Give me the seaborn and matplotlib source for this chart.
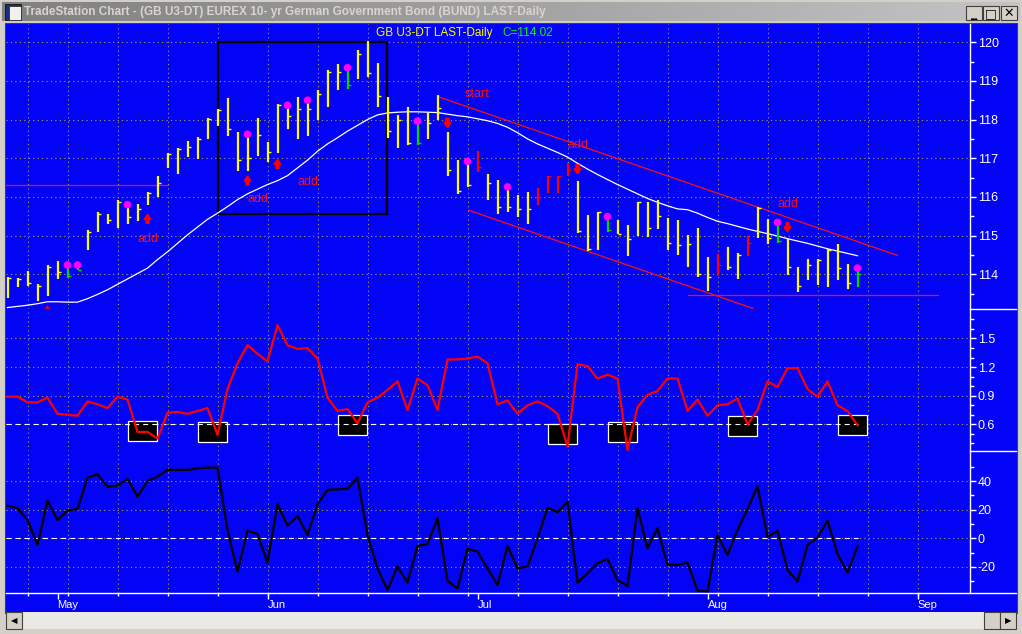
import numpy as np
import pandas as pd
import matplotlib
matplotlib.use('Agg')
import matplotlib.pyplot as plt
import matplotlib.patches as mpatches
from matplotlib.lines import Line2D
from matplotlib.colors import LinearSegmentedColormap
from matplotlib.ticker import FixedLocator
import seaborn as sns

plt.rcParams['font.family'] = ['Liberation Sans', 'DejaVu Sans']

# ---------------- data ----------------
highs = [113.92, 113.90, 114.09, 113.75, 114.24, 114.34, 114.24, 114.24, 115.15, 115.60,
         115.56, 115.92, 115.80, 115.82, 116.14, 116.53, 117.14, 117.26, 117.45, 117.55,
         118.04, 118.26, 118.56, 117.68, 117.62, 118.05, 117.42, 118.41, 118.37, 118.59,
         118.50, 118.76, 119.28, 119.43, 119.34, 119.80, 120.03, 119.45, 118.59, 118.13,
         118.33, 117.96, 118.16, 118.63, 117.67, 116.96, 116.92, 117.19, 116.60, 116.44,
         116.26, 116.05, 116.12, 116.22, 116.55, 116.55, 116.88, 116.41, 115.54, 115.62,
         115.49, 115.40, 115.28, 115.88, 115.88, 115.93, 115.45, 115.40, 115.01, 115.19,
         114.44, 114.52, 114.70, 114.54, 114.98, 115.73, 115.43, 115.34, 114.91, 114.20,
         114.39, 114.39, 114.65, 114.78, 114.26, 114.16]
lows = [113.38, 113.68, 113.70, 113.32, 113.44, 113.87, 113.90, 114.10, 114.64, 115.10,
        115.29, 115.20, 115.30, 115.37, 115.78, 115.99, 116.75, 116.58, 117.02, 116.97,
        117.50, 117.83, 117.58, 116.66, 116.68, 117.05, 116.90, 117.14, 117.75, 117.50,
        117.58, 117.99, 118.32, 118.76, 118.80, 119.04, 119.11, 118.33, 117.52, 117.27,
        117.34, 117.34, 117.49, 117.99, 116.55, 116.08, 116.25, 116.64, 115.91, 115.56,
        115.61, 115.47, 115.30, 115.79, 116.10, 116.10, 116.55, 115.07, 114.59, 114.64,
        115.09, 115.04, 114.47, 115.00, 114.96, 115.17, 114.62, 114.50, 114.19, 113.94,
        113.58, 113.96, 114.10, 113.88, 114.48, 114.93, 114.78, 114.80, 113.98, 113.53,
        113.86, 113.72, 113.68, 113.84, 113.63, 113.67]
closes = [113.90, 113.88, 113.77, 113.70, 114.20, 114.07, 113.95, 114.12, 115.10, 115.55,
          115.40, 115.88, 115.47, 115.69, 116.10, 116.37, 117.10, 117.24, 117.28, 117.50,
          118.02, 118.24, 117.76, 116.95, 117.00, 117.60, 117.15, 118.37, 118.10, 118.27,
          118.27, 118.66, 119.24, 119.24, 118.90, 119.70, 119.20, 118.60, 117.70, 117.98,
          117.39, 117.40, 117.90, 118.30, 116.70, 116.15, 116.30, 116.77, 116.35, 115.73,
          115.73, 115.68, 115.68, 116.00, 116.55, 116.55, 116.70, 115.13, 114.66, 115.60,
          115.15, 115.04, 114.90, 115.86, 115.20, 115.50, 114.80, 114.75, 114.78, 114.02,
          113.92, 114.24, 114.20, 114.50, 114.82, 115.71, 114.93, 114.85, 114.19, 113.70,
          114.24, 114.37, 114.64, 114.16, 113.78, 114.02]
ma = [113.14, 113.17, 113.20, 113.24, 113.29, 113.29, 113.28, 113.28, 113.37, 113.48,
      113.60, 113.74, 113.88, 114.02, 114.16, 114.38, 114.58, 114.80, 115.02, 115.22,
      115.42, 115.58, 115.75, 115.93, 116.08, 116.20, 116.32, 116.42, 116.55, 116.75,
      116.95, 117.18, 117.37, 117.53, 117.70, 117.85, 118.00, 118.12, 118.17, 118.19,
      118.20, 118.20, 118.19, 118.18, 118.14, 118.10, 118.07, 118.02, 117.97, 117.90,
      117.80, 117.66, 117.50, 117.37, 117.26, 117.15, 117.03, 116.87, 116.72, 116.58,
      116.45, 116.32, 116.20, 116.08, 115.96, 115.86, 115.77, 115.69, 115.67, 115.58,
      115.47, 115.37, 115.31, 115.24, 115.17, 115.11, 115.05, 114.99, 114.92, 114.86,
      114.80, 114.73, 114.66, 114.60, 114.54, 114.48]
red_bars = [47, 53, 54, 55, 56, 71, 74]
green_bars = [6, 7, 34, 41, 60, 77, 85]
dot_bars = [6, 7, 12, 24, 28, 30, 34, 41, 46, 50, 60, 77, 85]

up_x = [4, 14, 24, 27]
up_tip = [113.17, 115.55, 116.54, 116.97]
down_x = [44, 57, 78]
down_tip = [117.80, 116.60, 115.10]
arrow_len = 0.23

note_x = [14, 25, 30, 57, 78, 47]
note_y = [114.90, 115.94, 116.39, 117.34, 115.82, 118.65]
note_text = ['add', 'add', 'add', 'add', 'add', 'start']

upper_x, upper_y = [43.08, 88.98], [118.59, 114.49]
lower_x, lower_y = [46.08, 74.52], [115.66, 113.12]
support_x, support_y = [68.08, 93.02], [113.46, 113.46]
level_x, level_y = [-0.15, 16.08], [116.30, 116.30]
frame_x, frame_y = [21.08, 37.95], [115.55, 120.00]

osc = [0.89, 0.89, 0.83, 0.83, 0.88, 0.71, 0.70, 0.69, 0.84, 0.81,
       0.77, 0.89, 0.86, 0.52, 0.52, 0.45, 0.72, 0.73, 0.71, 0.74,
       0.77, 0.49, 0.97, 1.24, 1.43, 1.34, 1.26, 1.64, 1.43, 1.39,
       1.40, 1.29, 0.88, 0.74, 0.76, 0.61, 0.83, 0.88, 0.96, 1.05,
       0.75, 1.08, 1.01, 0.75, 1.28, 1.28, 1.29, 1.31, 1.24, 0.81,
       0.85, 0.71, 0.80, 0.84, 0.79, 0.71, 0.37, 1.23, 1.21, 1.08,
       1.12, 1.08, 0.33, 0.78, 0.91, 0.95, 1.08, 1.08, 0.74, 0.86,
       0.69, 0.80, 0.81, 0.87, 0.60, 0.75, 1.05, 0.99, 1.19, 1.19,
       0.97, 0.89, 1.05, 0.80, 0.74, 0.59]
osc_level = 0.6
sig_x = [13.5, 20.5, 34.5, 55.5, 61.5, 73.5, 84.5]
sig_y = [0.528, 0.516, 0.590, 0.495, 0.516, 0.580, 0.590]
sig_w, sig_h = 2.9, 0.21

mom = [22.8, 21.0, 12.8, -4.7, 26.3, 12.8, 19.3, 20.5, 42.4, 44.7,
       36.1, 36.8, 41.5, 29.1, 40.1, 43.1, 47.8, 47.8, 47.8, 48.9,
       49.4, 49.4, 5.8, -23.3, 5.3, 3.0, -17.0, 23.8, 8.8, 15.6,
       2.3, 23.8, 33.8, 34.2, 34.5, 42.4, 2.3, -21.0, -36.2, -19.8,
       -31.0, -5.4, -4.0, 14.0, -29.9, -35.0, -7.5, -9.3, -21.0, -32.7,
       -5.4, -21.0, -19.8, 0.0, 21.4, 18.2, 25.6, -31.0, -24.5, -17.5,
       -14.5, -29.2, -33.4, 21.0, -7.0, 7.0, -18.7, -18.7, -17.0, -36.6,
       -37.3, 2.3, -11.7, 5.8, 20.3, 36.6, 0.7, 5.3, -22.2, -30.3,
       -4.7, 0.4, 12.3, -11.0, -24.0, -5.9]

month_pos = [5, 26, 47, 70, 91]
month_lab = ['May', 'Jun', 'Jul', 'Aug', 'Sep']
week_pos = [2, 6, 11, 16, 21, 26, 31, 36, 41, 46, 51, 56, 61, 66, 71, 76, 81, 86, 91]

price_ticks = [114, 115, 116, 117, 118, 119, 120]
price_minor = [113.5, 114.5, 115.5, 116.5, 117.5, 118.5, 119.5]
osc_ticks = [0.6, 0.9, 1.2, 1.5]
osc_minor = [0.4, 0.5, 0.7, 0.8, 1.0, 1.1, 1.3, 1.4, 1.6, 1.7]
mom_ticks = [-20, 0, 20, 40]
mom_minor = [-30, -10, 10, 30, 50]

# ---------------- styling ----------------
W, H = 1022, 634
BLUE = '#0303f5'
GRID = '#a8a060'
YEL = '#ffff00'


def fx(px):
    return px / W


def fy(py):
    return 1 - py / H


def frect(x0, y0, x1, y1, z=-1, **kw):
    fig.add_artist(mpatches.Rectangle((fx(x0), fy(y1)), fx(x1) - fx(x0), (y1 - y0) / H,
                                      transform=fig.transFigure, zorder=z, **kw))


def fline(xs, ys, **kw):
    fig.add_artist(Line2D([fx(v) for v in xs], [fy(v) for v in ys],
                          transform=fig.transFigure, zorder=5, **kw))


fig = plt.figure(figsize=(W / 100, H / 100), dpi=100, facecolor='#d4d0c8')

# window title bar
ax_t = fig.add_axes([fx(2), fy(21), fx(1020) - fx(2), 19 / H])
ax_t.imshow(np.linspace(0, 1, 256).reshape(1, -1), aspect='auto', extent=[0, 1, 0, 1],
            cmap=LinearSegmentedColormap.from_list('tb', ['#808080', '#c4c4c4']))
ax_t.axis('off')
fig.text(fx(24), fy(11.5), 'TradeStation Chart - (GB U3-DT) EUREX 10- yr German Government Bond (BUND) LAST-Daily',
         color='#d8d5ce', fontsize=8.5, fontweight='bold', va='center', ha='left')
frect(5, 4, 21, 20, z=3, facecolor='#1c2c7c', edgecolor='#101010', lw=0.6)
frect(9, 6, 21, 20, z=3, facecolor='#f0f0f0', edgecolor='#303030', lw=0.6)
for bx, sym in [(966, '_'), (983, '\u25a1'), (1001, '\u2715')]:
    frect(bx, 6, bx + 16, 20, z=3, facecolor='#d4d0c8', edgecolor='#404040', lw=0.8)
    fig.text(fx(bx + 8), fy(13.5), sym, color='black', fontsize=9, fontweight='bold',
             ha='center', va='center', family=['DejaVu Sans'])

# blue chart area + scrollbar
frect(5, 23, 1017, 613, facecolor=BLUE, edgecolor='#404040', lw=0.8)
frect(6, 612, 1016, 629, z=3, facecolor='#ebe9e3', edgecolor='none')
for bx0, bx1, sym in [(6, 22, '\u25c0'), (984, 1000, ''), (1000, 1016, '\u25b6')]:
    frect(bx0, 612, bx1, 629, z=3, facecolor='#d4d0c8', edgecolor='#404040', lw=0.8)
    if sym:
        fig.text(fx((bx0 + bx1) / 2), fy(620.5), sym, color='black', fontsize=6,
                 ha='center', va='center', family=['DejaVu Sans'])

panels = [
    (24, 309.3, (113.095, 120.47), price_ticks, price_minor, ['114', '115', '116', '117', '118', '119', '120']),
    (309.3, 451.3, (0.317, 1.806), osc_ticks, osc_minor, ['0.6', '0.9', '1.2', '1.5']),
    (451.3, 593.3, (-38.5, 60.8), mom_ticks, mom_minor, ['-20', '0', '20', '40']),
]
axes = []
for top, bot, ylim, ticks, minor, labs in panels:
    ax = fig.add_axes([fx(6), fy(bot), fx(970) - fx(6), (bot - top) / H])
    ax.set_facecolor(BLUE)
    ax.set_xlim(-0.15, 96.25)
    ax.set_ylim(*ylim)
    for s in ['left', 'top', 'bottom']:
        ax.spines[s].set_visible(False)
    ax.spines['right'].set_color('white')
    ax.spines['right'].set_linewidth(1)
    ax.yaxis.tick_right()
    ax.yaxis.set_major_locator(FixedLocator(ticks))
    ax.yaxis.set_minor_locator(FixedLocator(minor))
    ax.set_yticklabels(labs)
    ax.tick_params(axis='y', which='major', length=4, width=1, colors='white', labelsize=9, pad=1.5)
    ax.tick_params(axis='y', which='minor', length=3, width=1, colors='white')
    ax.xaxis.remove_overlapping_locs = False
    ax.set_xticks(week_pos, minor=True)
    ax.set_xticks([])
    ax.tick_params(axis='x', which='both', length=0, labelbottom=False)
    ax.grid(axis='y', which='major', color=GRID, linestyle=(0, (1, 3)), lw=0.8)
    ax.grid(axis='x', which='minor', color=GRID, linestyle=(0, (1, 3)), lw=0.8)
    ax.set_axisbelow(True)
    axes.append(ax)
ax_p, ax_m, ax_b = axes

# ---------------- price panel ----------------
bars = pd.DataFrame({'i': np.arange(len(highs)), 'high': highs, 'low': lows,
                     'close': closes, 'ma': ma})
cols = [YEL] * len(bars)
for i in red_bars:
    cols[i] = '#ff0000'
for i in green_bars:
    cols[i] = '#00d800'

ax_p.add_patch(mpatches.Rectangle((frame_x[0], frame_y[0]), frame_x[1] - frame_x[0],
                                  frame_y[1] - frame_y[0], fill=False, edgecolor='black', lw=1.6, zorder=2))
sns.lineplot(data=bars, x='i', y='ma', ax=ax_p, color='white', lw=0.9, estimator=None, zorder=3)
for xs, ys in [(upper_x, upper_y), (lower_x, lower_y), (support_x, support_y), (level_x, level_y)]:
    ax_p.plot(xs, ys, color='#ff1010', lw=0.9, zorder=3)
ax_p.vlines(bars['i'], bars['low'], bars['high'], colors=cols, lw=1.6, zorder=4)
ax_p.hlines(bars['close'], bars['i'], bars['i'] + 0.35, colors=cols, lw=1.0, zorder=4)
dots = bars.iloc[dot_bars]
sns.scatterplot(x=dots['i'], y=dots['high'], ax=ax_p, color='#ff00ff', s=30,
                edgecolor='none', zorder=5, legend=False)
for x, tip in zip(up_x, up_tip):
    ax_p.annotate('', xy=(x, tip), xytext=(x, tip - arrow_len),
                  arrowprops=dict(arrowstyle='simple,head_length=0.35,head_width=0.5,tail_width=0.22',
                                  color='#ff0000', shrinkA=0, shrinkB=0), zorder=5)
for x, tip in zip(down_x, down_tip):
    ax_p.annotate('', xy=(x, tip), xytext=(x, tip + arrow_len),
                  arrowprops=dict(arrowstyle='simple,head_length=0.35,head_width=0.5,tail_width=0.22',
                                  color='#ff0000', shrinkA=0, shrinkB=0), zorder=5)
for x, y, t in zip(note_x, note_y, note_text):
    ax_p.text(x, y, t, color='#ff1010', fontsize=9, ha='center', va='center', zorder=5)
ax_p.set_xlabel('')
ax_p.set_ylabel('')

fig.text(fx(376), fy(33), 'GB U3-DT LAST-Daily', color=YEL, fontsize=8.5, ha='left', va='center')
fig.text(fx(502), fy(33), 'C=114.02', color='#00ff00', fontsize=8.5, ha='left', va='center')

# ---------------- oscillator panel ----------------
for x, y in zip(sig_x, sig_y):
    ax_m.add_patch(mpatches.Rectangle((x - sig_w / 2, y - sig_h / 2), sig_w, sig_h,
                                      facecolor='black', edgecolor='white', lw=0.9, zorder=2))
ax_m.plot([-0.15, 85], [osc_level, osc_level], color='white', lw=0.8,
          linestyle=(0, (4.5, 3.7)), zorder=3)
sns.lineplot(x=bars['i'], y=osc, ax=ax_m, color='#ff0000', lw=1.6, estimator=None, zorder=4)
ax_m.set_xlabel('')
ax_m.set_ylabel('')

# ---------------- momentum panel ----------------
ax_b.plot([-0.15, 85], [0, 0], color='white', lw=0.8, linestyle=(0, (4.5, 3.7)), zorder=3)
sns.lineplot(x=bars['i'], y=mom, ax=ax_b, color='black', lw=1.6, estimator=None, zorder=4)
ax_b.set_xlabel('')
ax_b.set_ylabel('')
ax_b.set_xticks(month_pos)
ax_b.set_xticklabels(month_lab)
ax_b.set_xticks(week_pos, minor=True)
ax_b.tick_params(axis='x', which='major', length=4, width=1, colors='white',
                 labelsize=8, pad=0.5, labelbottom=True)
ax_b.tick_params(axis='x', which='minor', length=2, width=1, colors='white')
for lbl in ax_b.get_xticklabels():
    lbl.set_horizontalalignment('left')

# axis frame lines in white
fline([6, 1016], [593.3, 593.3], color='white', lw=1)
fline([970, 1016], [309.3, 309.3], color='white', lw=1)
fline([970, 1016], [451.3, 451.3], color='white', lw=1)

fig.savefig('out.png', dpi=100, facecolor=fig.get_facecolor())
